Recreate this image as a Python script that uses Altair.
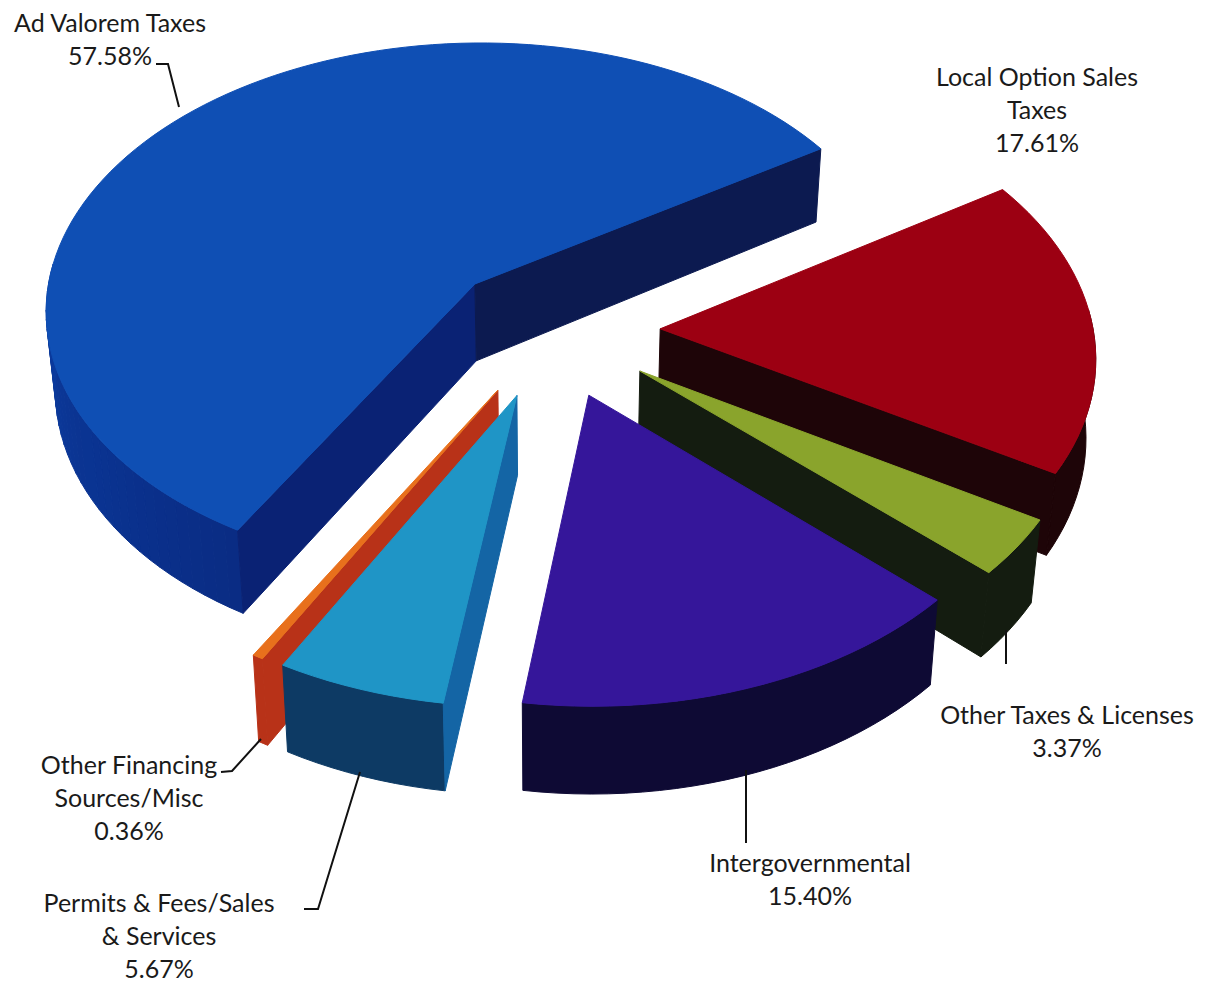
import math
import altair as alt

# Data
labels = ["Ad Valorem Taxes", "Local Option Sales Taxes", "Other Taxes & Licenses",
          "Intergovernmental", "Permits & Fees/Sales & Services", "Other Financing Sources/Misc"]
values = [57.58, 17.61, 3.37, 15.40, 5.67, 0.36]
label_lines = [["Ad Valorem Taxes"], ["Local Option Sales", "Taxes"], ["Other Taxes & Licenses"],
               ["Intergovernmental"], ["Permits & Fees/Sales", "& Services"],
               ["Other Financing", "Sources/Misc"]]
top_colors = ["#0f4fb4", "#9c0012", "#8aa42c", "#35169a", "#1f95c6", "#e8701c"]
outer_a = ["#0a2c84", "#1e0508", "#141c10", "#0e0a34", "#0d3a64", "#b83218"]
outer_b = ["#0b3ca0", "#1e0508", "#141c10", "#0e0a34", "#0d3a64", "#b83218"]
start_wall = ["#0a2274", "#1e0508", "#141c10", "#0e0a34", "#1465a5", "#b83218"]
end_wall = ["#0c1a50", "#1e0508", "#141c10", "#0e0a34", "#0d3a64", "#b83218"]
draw_order = [0, 1, 2, 3, 5, 4]

# Chart geometry
W, H = 1191, 968
CX, CY, R, K, A, DEPTH, CONV, EXPLODE = 552, 330, 433, 0.625, 0.09, 78, 0.018, 0.25
START = -150.0
BLUE_STEPS = 30

def project(u, v, z):
    s = 1 / (1 - A * v)
    x = CX + R * u * s * (1 - CONV * z)
    y = CY + R * K * v * s + DEPTH * z * s
    return [round(x - 8, 2), round(y - 8, 2)]

def lerp(a, b, t):
    ca = [int(a[i:i + 2], 16) for i in (1, 3, 5)]
    cb = [int(b[i:i + 2], 16) for i in (1, 3, 5)]
    return "#" + "".join(f"{round(p + (q - p) * t):02x}" for p, q in zip(ca, cb))

def feature(points, color):
    return {"type": "Feature", "properties": {"color": color},
            "geometry": {"type": "Polygon", "coordinates": [points + [points[0]]]}}

def wall(points):
    return [project(u, v, 0) for u, v in points] + [project(u, v, 1) for u, v in reversed(points)]

# angular extent of each slice, from the values
spans, cur = [], START
total = sum(values)
for val in values:
    nxt = cur + 360 * val / total
    spans.append((cur, nxt))
    cur = nxt

features = []
for i in draw_order:
    t0, t1 = spans[i]
    mid = math.radians((t0 + t1) / 2)
    ax, ay = EXPLODE * math.sin(mid), -EXPLODE * math.cos(mid)
    n = max(2, int((t1 - t0) / 2))
    rim = [(ax + math.sin(math.radians(t0 + (t1 - t0) * j / n)),
            ay - math.cos(math.radians(t0 + (t1 - t0) * j / n))) for j in range(n + 1)]
    # outer wall: only the part that faces the viewer
    vis = [j for j in range(n + 1) if math.cos(math.radians(t0 + (t1 - t0) * j / n)) < 0.08]
    if len(vis) > 1:
        steps = min(BLUE_STEPS, len(vis) - 1) if outer_a[i] != outer_b[i] else 1
        for s_i in range(steps):
            lo = vis[0] + (vis[-1] - vis[0]) * s_i // steps
            hi = vis[0] + (vis[-1] - vis[0]) * (s_i + 1) // steps
            c = lerp(outer_a[i], outer_b[i], s_i / max(1, steps - 1))
            features.append(feature(wall(rim[lo:hi + 1]), c))
    # radial walls
    for edge, theta, col, sign in ((rim[0], t0, start_wall[i], -1), (rim[-1], t1, end_wall[i], 1)):
        if sign * math.sin(math.radians(theta)) > 0:
            features.append(feature(wall([(ax, ay), edge]), col))
    # top face
    features.append(feature([project(ax, ay, 0)] + [project(u, v, 0) for u, v in rim], top_colors[i]))

pie = alt.Chart(alt.Data(values=features)).mark_geoshape(strokeWidth=1).encode(
    color=alt.Color("properties.color:N", scale=None),
    stroke=alt.Stroke("properties.color:N", scale=None),
).project(type="identity", scale=1, translate=[0, 0])

# Label placement
label_x = [110, 1037, 1067, 810, 159, 129]
label_y = [24, 78, 716, 864, 904, 766]
LINE = 33
text_rows = []
for i, lines in enumerate(label_lines):
    rows = lines + [f"{values[i]:.2f}%"]
    for j, t in enumerate(rows):
        text_rows.append({"t": t, "px": label_x[i] - 8, "py": label_y[i] + j * LINE - 8})

xs = alt.Scale(domain=[0, W], range=[0, W])
ys = alt.Scale(domain=[0, H], range=[0, H])

text = alt.Chart(alt.Data(values=text_rows)).mark_text(
    font="Lato", fontSize=25, color="#1a1a1a", align="center", baseline="middle"
).encode(x=alt.X("px:Q", scale=xs, axis=None), y=alt.Y("py:Q", scale=ys, axis=None), text="t:N")

leaders = [
    [(156, 64), (168, 64), (179, 107)],
    [(1006, 630), (1006, 664)],
    [(746, 770), (746, 843)],
    [(304, 909), (318, 909), (360, 772)],
    [(221, 772), (232, 771), (261, 739)],
]
leader_rows = [{"k": k, "o": o, "px": p[0] - 8, "py": p[1] - 8}
               for k, pts in enumerate(leaders) for o, p in enumerate(pts)]
lines_layer = alt.Chart(alt.Data(values=leader_rows)).mark_line(color="#111111", strokeWidth=2).encode(
    x=alt.X("px:Q", scale=xs, axis=None), y=alt.Y("py:Q", scale=ys, axis=None),
    detail="k:N", order="o:Q")

chart = alt.layer(pie, lines_layer, text).properties(
    width=W, height=H, padding=0, background="white"
).configure_view(stroke=None)

chart.save("out.html", embed_options={"renderer": "svg", "actions": False})
